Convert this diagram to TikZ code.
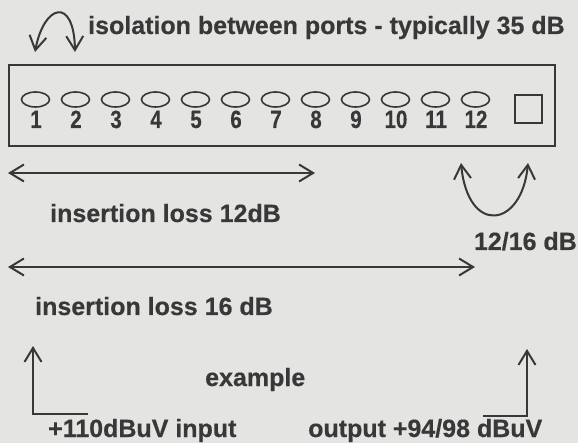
\documentclass[tikz,border=0pt]{standalone}
\usepackage{fontspec}
\setmainfont{Liberation Sans}[BoldFeatures={FakeBold=0.4}]
\usetikzlibrary{arrows.meta,shapes.geometric}
\definecolor{bg}{HTML}{E4E4E2}
\definecolor{ink}{HTML}{383838}
\begin{document}
\begin{tikzpicture}[x=1pt,y=-1pt,
  lbl/.style={font=\fontsize{25}{28}\selectfont\bfseries, text=ink, inner sep=0pt},
  num/.style={font=\fontsize{25}{28}\selectfont\bfseries, text=ink, inner sep=0pt, xscale=0.82},
  ln/.style={draw=ink, line width=2pt},
  tip/.tip={Straight Barb[length=14pt,width=17pt,line width=2pt]},
  arr/.style={ln, tip-tip},
  sarr/.style={ln, -tip},
  port/.style={draw=ink, line width=1.6pt, ellipse, minimum width=28pt, minimum height=15pt, inner sep=0pt}
]
\fill[bg] (0,0) rectangle (578,443);
\useasboundingbox (0,0) rectangle (578,443);

% title and top isolation arrow
\node[lbl, anchor=base west] (title) at (88,34) {isolation between ports - typically 35 dB};
\coordinate (ia) at (35,52);
\coordinate (ib) at (75,52);
\draw[arr] (ia) .. controls (44,4) and (74,-4) .. (ib);

% splitter box
\node[draw=ink, line width=2pt, minimum width=546pt, minimum height=81pt, inner sep=0pt] (box) at (282,105.5) {};
\foreach \i in {1,...,12} {
  \node[port] (p\i) at ({35.5+40*(\i-1)},99.5) {};
  \node[num, anchor=base] (n\i) at ({36+40*(\i-1)},128) {\i};
}
\node[draw=ink, line width=1.6pt, minimum width=27pt, minimum height=28pt, inner sep=0pt] (in) at (528.5,109) {};

% 12/16 dB curved arrow
\coordinate (ca) at (461,163);
\coordinate (cb) at (528,163);
\draw[arr] (ca) .. controls (468,236) and (522,228) .. (cb);
\node[lbl, anchor=base east] (l1216) at (577,250) {12/16 dB};

% insertion loss arrows
\coordinate (s1) at (8,173);
\coordinate (s2) at (315,173);
\draw[arr] (s1) -- (s2);
\node[lbl, anchor=base west] (il12) at (50,222) {insertion loss 12dB};
\coordinate (t1) at (8,267);
\coordinate (t2) at (475,267);
\draw[arr] (t1) -- (t2);
\node[lbl, anchor=base west] (il16) at (35,315) {insertion loss 16 dB};

% example
\node[lbl, anchor=base west] (ex) at (205,386) {example};
\coordinate (lh) at (88,414);
\coordinate (lc) at (33,414);
\coordinate (lt) at (33,346);
\draw[sarr] (lh) -- (lc) -- (lt);
\node[lbl, anchor=base west] (inp) at (48,437) {+110dBuV input};
\coordinate (rh) at (483,416);
\coordinate (rc) at (527,416);
\coordinate (rt) at (527,349);
\draw[sarr] (rh) -- (rc) -- (rt);
\node[lbl, anchor=base west] (outp) at (308,437) {output +94/98 dBuV};
\end{tikzpicture}
\end{document}
